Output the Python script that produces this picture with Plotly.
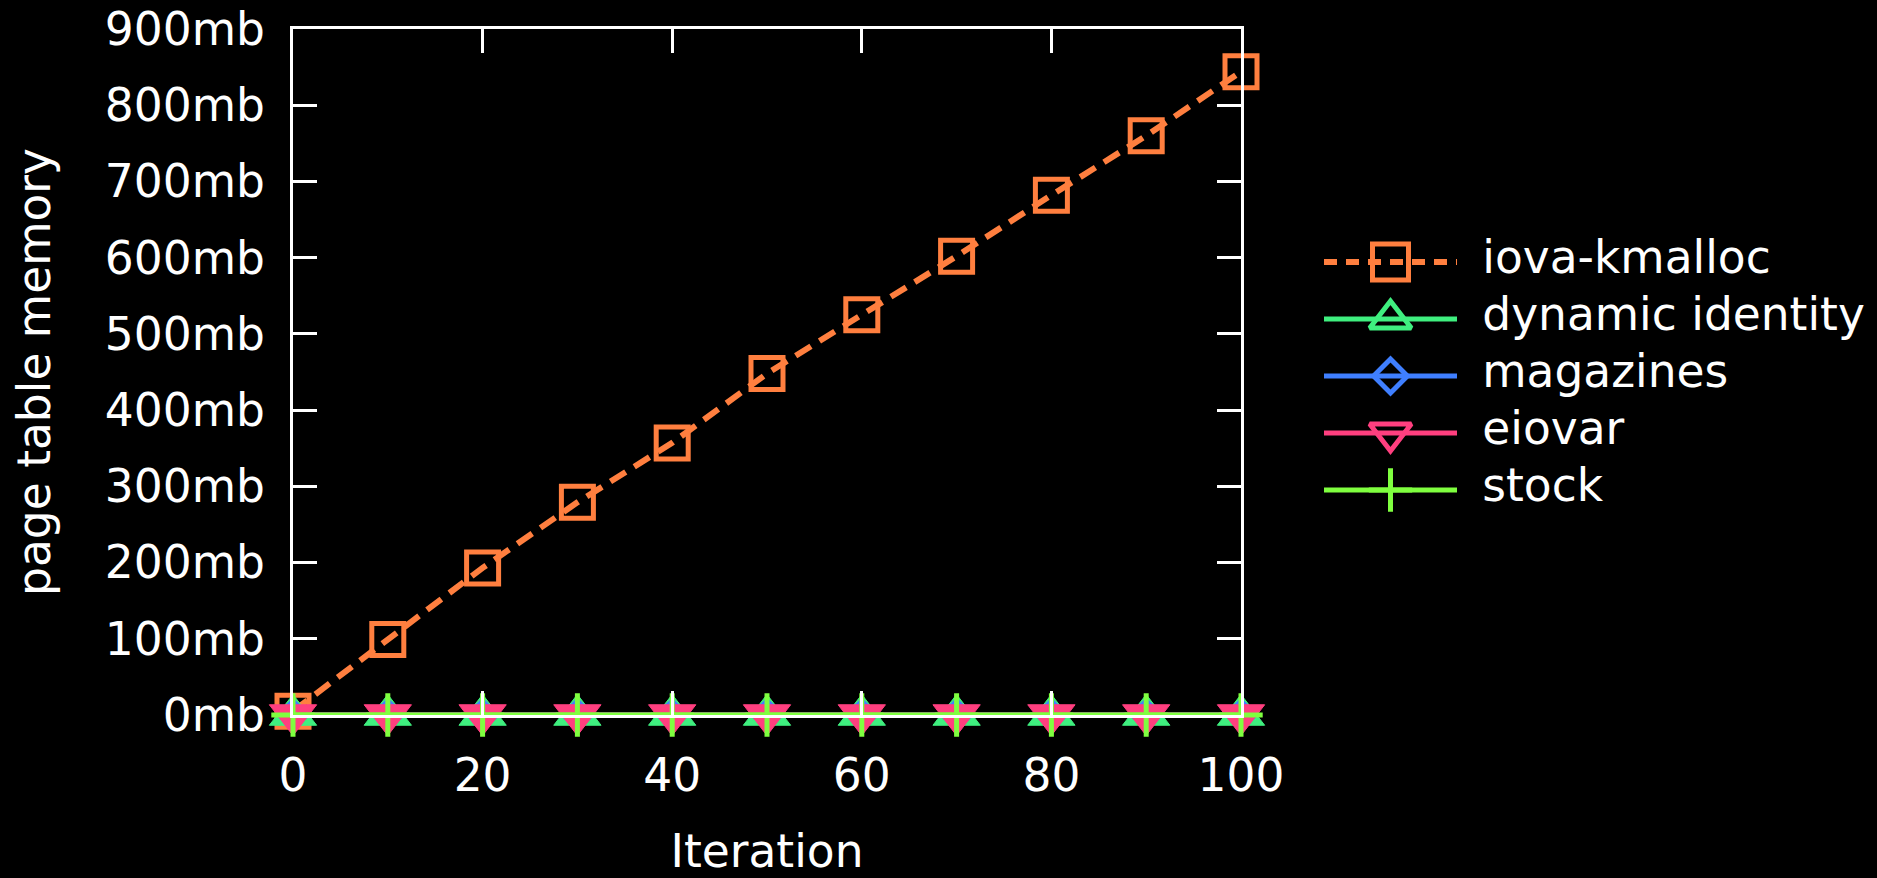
import plotly.graph_objects as go

iterations = [0, 10, 20, 30, 40, 50, 60, 70, 80, 90, 100]
iova_kmalloc = [5, 99, 193, 279, 357, 448, 525, 602, 682, 760, 844]
dynamic_identity = [0, 0, 0, 0, 0, 0, 0, 0, 0, 0, 0]
magazines = [0, 0, 0, 0, 0, 0, 0, 0, 0, 0, 0]
eiovar = [0, 0, 0, 0, 0, 0, 0, 0, 0, 0, 0]
stock = [0, 0, 0, 0, 0, 0, 0, 0, 0, 0, 0]
y_ticks = [0, 100, 200, 300, 400, 500, 600, 700, 800, 900]
y_tick_labels = [f"{v}mb" for v in y_ticks]
x_ticks = [0, 20, 40, 60, 80, 100]
legend_names = ["iova-kmalloc", "dynamic identity", "magazines", "eiovar", "stock"]

ORANGE = "#ff7f3f"
GREEN = "#3fef7f"
BLUE = "#3f7fff"
PINK = "#ff3f7f"
LIME = "#7fff3f"

FONT = "DejaVu Sans"
FS = 45.5

# name, values, colour, plot symbol, plot size
series = [
    ("dynamic identity", dynamic_identity, GREEN, "triangle-up", 41),
    ("magazines", magazines, BLUE, "diamond", 26),
    ("eiovar", eiovar, PINK, "triangle-down", 41),
    ("stock", stock, LIME, "cross-thin", 31),
]

fig = go.Figure()

fig.add_trace(go.Scatter(
    x=iterations, y=iova_kmalloc, mode="lines+markers", name="iova-kmalloc",
    line=dict(color=ORANGE, width=6, dash="18px,10px"),
    marker=dict(symbol="square-open", size=32, color=ORANGE, line=dict(color=ORANGE, width=5)),
    cliponaxis=False, showlegend=False,
))

for name, vals, col, sym, sz in series:
    fig.add_trace(go.Scatter(
        x=iterations, y=vals, mode="lines+markers", name=name, showlegend=False,
        line=dict(color=col, width=5),
        marker=dict(symbol=sym, size=sz, color=col,
                    line=dict(color=col, width=5 if sym == "cross-thin" else 1)),
        cliponaxis=False,
    ))

# custom legend drawn on its own hidden axes (x2/y2)
legend_styles = [
    (ORANGE, "square-open", 36, "13px,9px", 6),
    (GREEN, "triangle-up-open", 36, "solid", 5),
    (BLUE, "diamond-open", 26, "solid", 5),
    (PINK, "triangle-down-open", 36, "solid", 5),
    (LIME, "cross-thin", 31, "solid", 5),
]
for i, (name, (col, sym, sz, dash, lw)) in enumerate(zip(legend_names, legend_styles)):
    fig.add_trace(go.Scatter(
        x=[0, 1], y=[i, i], mode="lines", xaxis="x2", yaxis="y2",
        line=dict(color=col, width=lw, dash=dash), showlegend=False, hoverinfo="skip",
        cliponaxis=False,
    ))
    fig.add_trace(go.Scatter(
        x=[0.5], y=[i], mode="markers", xaxis="x2", yaxis="y2",
        marker=dict(symbol=sym, size=sz, color=col, line=dict(color=col, width=5)),
        showlegend=False, hoverinfo="skip", cliponaxis=False,
    ))
fig.add_trace(go.Scatter(
    x=[1.19] * len(legend_names), y=list(range(len(legend_names))), mode="text",
    text=legend_names, textposition="middle right", xaxis="x2", yaxis="y2",
    textfont=dict(family=FONT, size=FS, color="white"),
    showlegend=False, hoverinfo="skip", cliponaxis=False,
))

axis_common = dict(
    showgrid=False, zeroline=False, showline=True, linecolor="white", linewidth=3,
    mirror="allticks", ticks="inside", ticklen=24, tickwidth=3, tickcolor="white",
    tickfont=dict(family=FONT, size=FS, color="white"), automargin=False,
)

PAPER_W = 1877 - 293
LEG_X0 = 1324
LEG_LEN = 133
ROW_PX = 57
FIRST_ROW_PX = 262 - 29
leg_top = -FIRST_ROW_PX / ROW_PX
leg_bottom = leg_top + 686 / ROW_PX

fig.update_layout(
    xaxis=dict(
        domain=[0, 948 / PAPER_W],
        range=[0, 100], tickvals=x_ticks, ticktext=[str(v) for v in x_ticks],
        ticklabelstandoff=18,
        title=dict(text="Iteration", font=dict(family=FONT, size=FS, color="white"), standoff=44),
        **axis_common,
    ),
    yaxis=dict(
        range=[0, 900], tickvals=y_ticks, ticktext=y_tick_labels,
        ticklabelstandoff=16,
        title=dict(text="page table memory", font=dict(family=FONT, size=FS, color="white"), standoff=40),
        **axis_common,
    ),
    xaxis2=dict(domain=[(LEG_X0 - 293) / PAPER_W, 1.0], range=[0, (1877 - LEG_X0) / LEG_LEN],
                anchor="y2", visible=False, fixedrange=True, automargin=False),
    yaxis2=dict(domain=[0, 1], range=[leg_bottom, leg_top], anchor="x2", visible=False,
                fixedrange=True, automargin=False),
)

fig.update_layout(
    width=1877, height=878,
    paper_bgcolor="black", plot_bgcolor="black",
    margin=dict(l=293, r=0, t=29, b=163, autoexpand=False),
    font=dict(family=FONT, size=FS, color="white"),
    showlegend=False,
)

fig.write_html(
    "out.html",
    config={"displayModeBar": False},
    post_script="document.body.style.margin='0';document.body.style.background='black';",
)
